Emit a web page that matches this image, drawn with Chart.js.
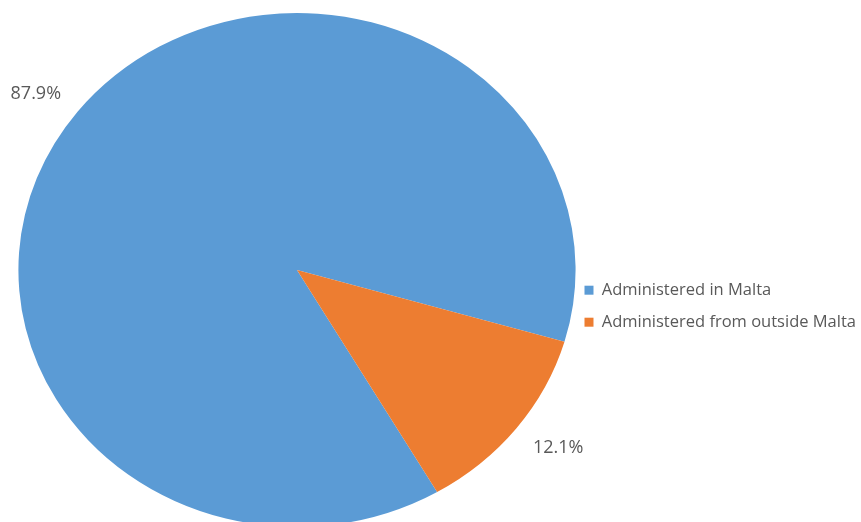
<!DOCTYPE html>
<html>
<head>
<meta charset="utf-8">
<script src="https://cdn.jsdelivr.net/npm/chart.js@4/dist/chart.umd.min.js"></script>
<style>
  html, body { margin: 0; padding: 0; background: #fff; overflow: hidden; }
  #wrap { position: relative; width: 861px; height: 540px; }
</style>
</head>
<body>
<div id="wrap"><canvas id="pieChart"></canvas></div>
<script>
const categories = ['Administered in Malta', 'Administered from outside Malta'];
const shares = [87.9, 12.1];
const sliceColors = ['#5B9BD5', '#ED7D31'];
const pctLabels = ['87.9%', '12.1%'];

// the original pie is a little wider than tall
const stretchX = 1.084;

const stretchPlugin = {
    id: 'stretch',
    beforeDatasetsDraw(chart) {
        const arc = chart.getDatasetMeta(0).data[0];
        const ctx = chart.ctx;
        ctx.save();
        ctx.translate(arc.x, arc.y);
        ctx.scale(stretchX, 1);
        ctx.translate(-arc.x, -arc.y);
    },
    afterDatasetsDraw(chart) {
        chart.ctx.restore();
    }
};

const pctPlugin = {
    id: 'pctLabels',
    afterDraw(chart) {
        const ctx = chart.ctx;
        const meta = chart.getDatasetMeta(0);
        ctx.save();
        ctx.font = '18px "Open Sans", sans-serif';
        ctx.fillStyle = '#595959';
        ctx.textAlign = 'center';
        ctx.textBaseline = 'middle';
        meta.data.forEach(function(arc, i) {
            const mid = (arc.startAngle + arc.endAngle) / 2 - 0.03;
            const r = arc.outerRadius + 42;
            const x = arc.x + Math.cos(mid) * r * stretchX;
            const y = arc.y + Math.sin(mid) * r + 1;
            ctx.fillText(pctLabels[i], x, y);
        });
        ctx.restore();
    }
};

const ctx = document.getElementById('pieChart').getContext('2d');
new Chart(ctx, {
    type: 'pie',
    data: {
        labels: categories,
        datasets: [{
            data: shares,
            backgroundColor: sliceColors,
            borderWidth: 0
        }]
    },
    options: {
        responsive: true,
        maintainAspectRatio: false,
        animation: false,
        rotation: 149.8,
        layout: {
            padding: { top: 13, bottom: 13, left: 25, right: -5 }
        },
        plugins: {
            tooltip: { enabled: false },
            legend: {
                position: 'right',
                align: 'center',
                title: { display: true, text: '', padding: { top: 0, bottom: 58 } },
                labels: {
                    boxWidth: 9,
                    boxHeight: 9,
                    padding: 15.5,
                    color: '#595959',
                    font: { family: '"Open Sans", sans-serif', size: 16.5 }
                }
            }
        }
    },
    plugins: [stretchPlugin, pctPlugin]
});
</script>
</body>
</html>
